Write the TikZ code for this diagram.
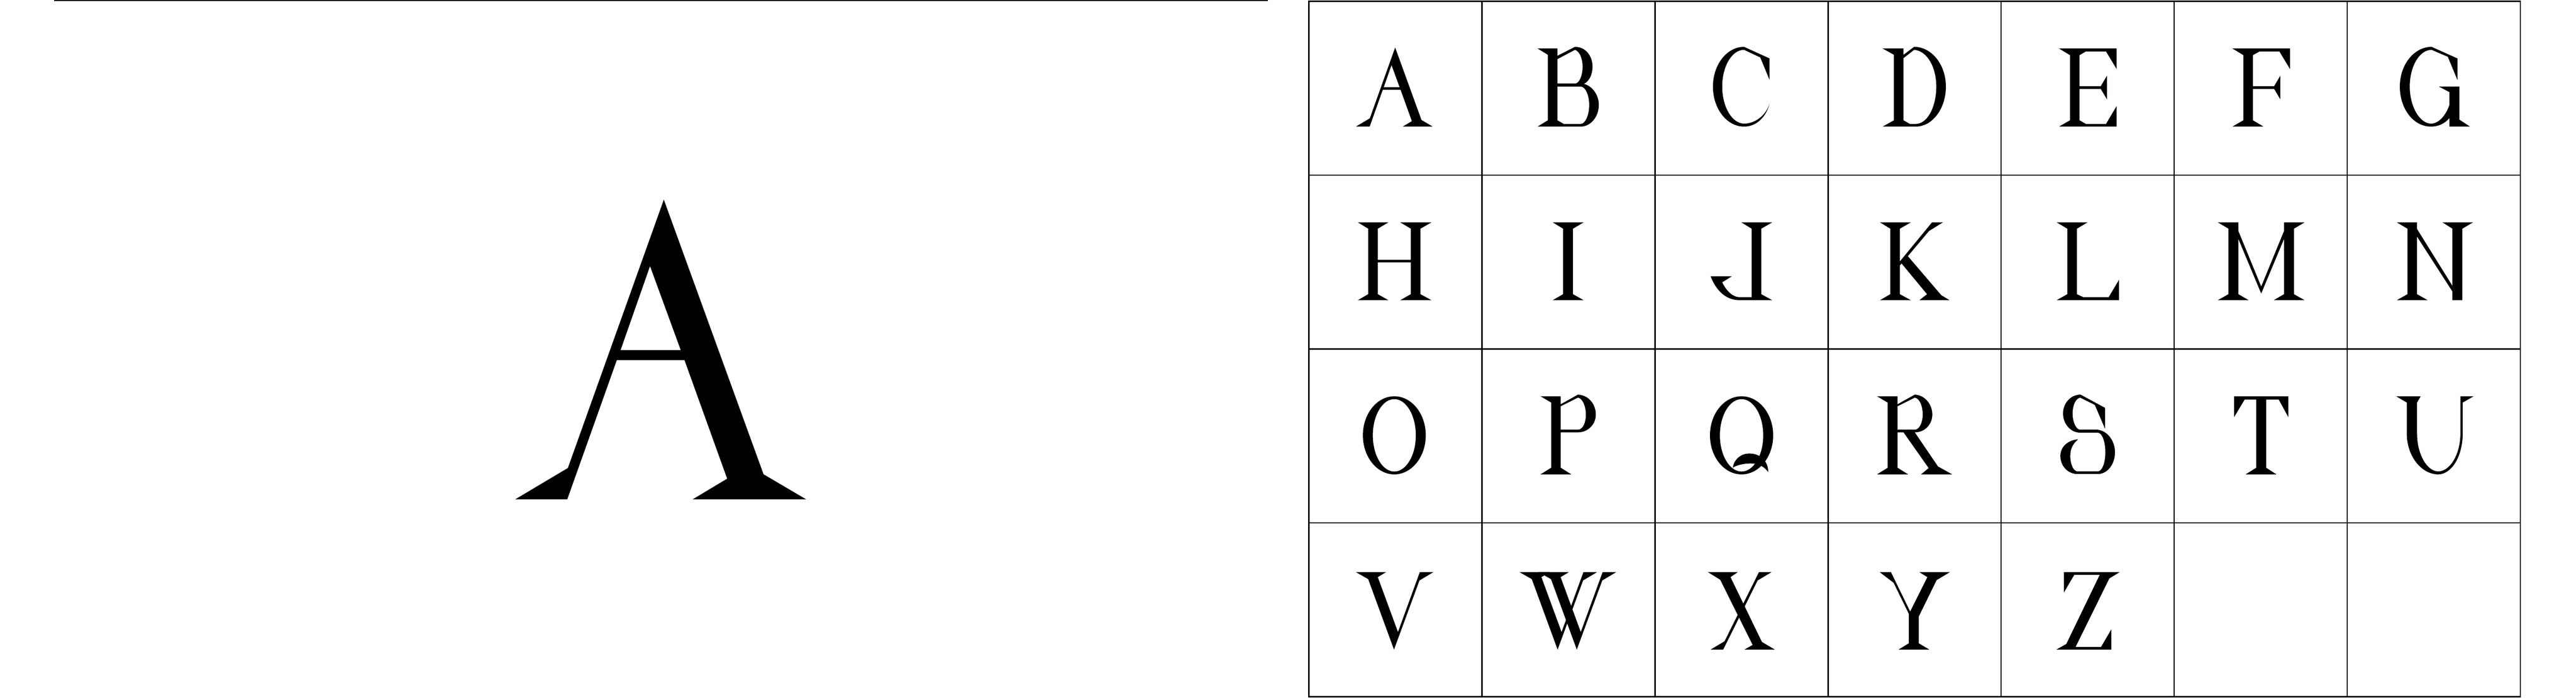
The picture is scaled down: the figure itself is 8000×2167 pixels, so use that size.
\documentclass[tikz,border=0pt]{standalone}

\begin{document}
\begin{tikzpicture}[x=0.01cm, y=-0.01cm,
  gridline/.style={line width=0.04cm},
  glyph/.style={fill=black, even odd rule},
  cell/.style 2 args={shift={({4065+537.4*#1},{3.7+540.1*#2})}, scale=1.0277}]
\useasboundingbox (0,0) rectangle (8000,2167);
\draw[gridline] (168,2) -- (3937,2); % rule over the big letter
\draw[gridline] (4065,3.7) rectangle (7827,2164); % the table
\foreach \i in {1,...,6} % edit here for the columns
\draw[gridline] ({4065+537.4*\i},3.7) -- ({4065+537.4*\i},2164);
\foreach \j in {1,2,3} % edit here for the rows
\draw[gridline] (4065,{3.7+540.1*\j}) -- (7827,{3.7+540.1*\j});
% A, once big and once in its cell
\foreach \dx/\dy/\s in {1046.9/74.8/3.895, 4065/3.7/1.0277}
\fill[glyph, shift={(\dx,\dy)}, scale=\s] (260.5,140) -- (184,354) -- (142,379) -- (183.5,379) -- (223,268) -- (277,268) -- (311,362.5) -- (283.5,379) -- (374,379) -- (340,359) -- cycle
  (249.5,193) -- (226,260) -- (274,260) -- cycle;
% B
\fill[glyph, cell={1}{0}] (168,143) -- (228,143) -- (228,165) -- (281,138) .. controls (315,138) and (334,168) .. (334,197) .. controls (334,225) and (322,243) .. (308,250) .. controls (335,257) and (353,285) .. (353,313) .. controls (353,350) and (328,379) .. (298,379) -- (168,379) -- (199,360) -- (199,162) -- cycle
  (228,175) -- (281,147) .. controls (296,152) and (304,175) .. (304,198) .. controls (304,225) and (294,249) .. (281,249) -- (228,249) -- cycle
  (228,258) -- (298,258) .. controls (313,258) and (324,285) .. (324,313) .. controls (324,345) and (312,371) .. (298,371) -- (247,371) -- (228,360) -- cycle;
% C
\fill[glyph, cell={2}{0}] (269,138) -- (346,173) -- (346,238) -- (318,170) -- (269,147) .. controls (232,147) and (203,197) .. (203,258) .. controls (203,320) and (233,370) .. (269,370) .. controls (303,370) and (335,345) .. (346,310) .. controls (335,352) and (305,379) .. (269,379) .. controls (217,379) and (175,325) .. (175,258) .. controls (175,192) and (217,138) .. (269,138) -- cycle;
% D
\fill[glyph, cell={3}{0}] (165,143) -- (228,143) -- (228,162) -- (260,138) .. controls (313,138) and (356,192) .. (356,258) .. controls (356,325) and (315,379) .. (265,379) -- (165,379) -- (199,360) -- (199,162) -- cycle
  (228,172) -- (260,147) .. controls (300,150) and (327,200) .. (327,258) .. controls (327,320) and (300,371) .. (265,371) -- (247,371) -- (228,360) -- cycle;
% E
\fill[glyph, cell={4}{0}] (175,143) -- (349,143) -- (349,205) -- (317,152) -- (256,152) -- (237,163) -- (237,257) -- (301,257) -- (320,225) -- (320,297) -- (301,265) -- (237,265) -- (237,360) -- (256,371) -- (317,371) -- (349,317) -- (349,379) -- (175,379) -- (208,360) -- (208,163) -- cycle;
% F
\fill[glyph, cell={5}{0}] (176,143) -- (350,143) -- (350,205) -- (318,152) -- (258,152) -- (238,163) -- (238,257) -- (302,257) -- (321,225) -- (321,297) -- (302,265) -- (238,265) -- (238,360) -- (270,379) -- (176,379) -- (209,360) -- (209,163) -- cycle;
% G
\fill[glyph, cell={6}{0}] (255,138) -- (333,173) -- (333,238) -- (304,168) -- (255,147) .. controls (218,147) and (189,197) .. (189,258) .. controls (189,320) and (220,370) .. (253,370) .. controls (280,370) and (300,340) .. (309,313) -- (309,275) -- (277,258) -- (339,258) -- (339,358) -- (371,379) -- (309,379) -- (309,353) .. controls (295,370) and (275,379) .. (253,379) .. controls (200,379) and (159,325) .. (159,258) .. controls (159,192) and (202,138) .. (255,138) -- cycle;
% H
\fill[glyph, cell={0}{1}] (148,143) -- (240,143) -- (208,162) -- (208,256) -- (308,256) -- (308,162) -- (276,143) -- (370,143) -- (337,162) -- (337,360) -- (370,378) -- (276,378) -- (308,360) -- (308,264) -- (208,264) -- (208,360) -- (240,378) -- (148,378) -- (179,360) -- (179,162) -- cycle;
% I
\fill[glyph, cell={1}{1}] (214,143) -- (307,143) -- (275,162) -- (275,360) -- (307,378) -- (214,378) -- (245,360) -- (245,162) -- cycle;
% J
\fill[glyph, cell={2}{1}] (261,143) -- (354,143) -- (321,162) -- (321,360) -- (354,378) -- (255,378) .. controls (215,378) and (185,350) .. (168,306) -- (232,306) -- (203,324) .. controls (215,350) and (235,369) .. (255,369) -- (292,369) -- (292,162) -- cycle;
% K
\fill[glyph, cell={3}{1}] (157,143) -- (250,143) -- (217,162) -- (217,261) -- (314,143) -- (347,143) -- (305,169) -- (241,245) -- (342,363) -- (367,378) -- (276,378) -- (299,360) -- (222,267) -- (217,273) -- (217,360) -- (250,378) -- (157,378) -- (188,360) -- (188,162) -- cycle;
% L
\fill[glyph, cell={4}{1}] (168,143) -- (261,143) -- (229,162) -- (229,360) -- (248,369) -- (325,369) -- (356,317) -- (356,378) -- (168,378) -- (200,360) -- (200,162) -- cycle;
% M
\fill[glyph, cell={5}{1}] (164,162) -- (132,143) -- (194,143) -- (194,169) -- (263,337) -- (332,169) -- (332,143) -- (394,143) -- (362,162) -- (362,360) -- (394,378) -- (301,378) -- (332,360) -- (332,193) -- (263,358) -- (194,193) -- (194,360) -- (225,378) -- (132,378) -- (164,360) -- cycle;
% N
\fill[glyph, cell={6}{1}] (182,162) -- (150,143) -- (211,143) -- (211,163) -- (318,335) -- (318,162) -- (288,143) -- (380,143) -- (348,162) -- (348,378) -- (318,378) -- (318,352) -- (211,186) -- (211,360) -- (243,378) -- (150,378) -- (182,360) -- cycle;
% O
\fill[glyph, cell={0}{2}] (258,261) ellipse [x radius=95, y radius=118] (258,261) ellipse [x radius=65, y radius=109.5];
% P
\fill[glyph, cell={1}{2}] (177,143) -- (238,143) -- (238,167) -- (290,138) .. controls (325,140) and (344,170) .. (344,198) .. controls (344,228) and (320,252) .. (290,252) -- (238,252) -- (238,359) -- (270,379) -- (177,379) -- (209,359) -- (209,162) -- cycle
  (238,173) -- (290,147) .. controls (305,150) and (314,175) .. (314,198) .. controls (314,222) and (305,244) .. (290,244) -- (238,244) -- cycle;
% Q
\fill[glyph, cell={2}{2}] (261.5,261) ellipse [x radius=95.5, y radius=118] (261.5,261) ellipse [x radius=65.5, y radius=109.5];
\fill[glyph, cell={2}{2}] (235,359) .. controls (238,335) and (258,316) .. (285,316) .. controls (320,316) and (342,340) .. (342,372) .. controls (330,355) and (312,346) .. (290,346) .. controls (265,346) and (245,352) .. (235,359) -- cycle;
% R
\fill[glyph, cell={3}{2}] (148,143) -- (210,143) -- (210,167) -- (262,138) .. controls (295,140) and (315,170) .. (315,198) .. controls (315,228) and (292,252) .. (262,252) -- (332,355) -- (375,379) -- (281,379) -- (304,360) -- (228,252) -- (210,252) -- (210,359) -- (242,379) -- (148,379) -- (180,359) -- (180,162) -- cycle
  (210,173) -- (262,147) .. controls (278,150) and (286,175) .. (286,198) .. controls (286,222) and (276,244) .. (262,244) -- (210,244) -- cycle;
% S
\fill[glyph, cell={4}{2}] (240,138) -- (314,178) -- (314,241) -- (283,169) -- (239,147) .. controls (225,150) and (216,170) .. (216,195) .. controls (216,222) and (227,244) .. (239,244) -- (292,244) .. controls (322,248) and (344,278) .. (344,312) .. controls (344,350) and (320,378) .. (292,378) -- (231,378) .. controls (203,378) and (179,355) .. (179,323) .. controls (179,295) and (203,275) .. (233,273) .. controls (218,285) and (209,300) .. (209,323) .. controls (209,350) and (219,370) .. (231,370) -- (292,370) .. controls (305,370) and (315,345) .. (315,312) .. controls (315,280) and (305,253) .. (292,253) -- (239,253) .. controls (210,253) and (187,226) .. (187,195) .. controls (187,164) and (210,138) .. (240,138) -- cycle;
% T
\fill[glyph, cell={5}{2}] (181,143) -- (345,143) -- (345,206) -- (316,153) -- (278,153) -- (278,359) -- (309,379) -- (216,379) -- (248,359) -- (248,153) -- (213,153) -- (181,206) -- cycle;
% U
\fill[glyph, cell={6}{2}] (148,143) -- (222,143) -- (211,162) -- (211,255) .. controls (211,320) and (242,370) .. (275,370) .. controls (310,370) and (342,320) .. (342,255) -- (342,143) -- (382,143) -- (349,162) -- (349,255) .. controls (349,325) and (315,379) .. (275,379) .. controls (225,379) and (180,325) .. (180,255) -- (180,162) -- cycle;
% V, and W as two V's
\foreach \c/\dx in {0/0, 1/-28.5, 1/29.5}
\fill[glyph, cell={\c}{3}, shift={(\dx,0)}] (142,149) -- (233,149) -- (208,164) -- (269,330) -- (335,149) -- (376,149) -- (334,174) -- (257,383) -- (179,170) -- cycle;
% X
\fill[glyph, cell={2}{3}] (160,149) -- (250,149) -- (228,164) -- (323,360) -- (362,383) -- (270,383) -- (295,369) -- (197,172) -- cycle;
\fill[glyph, cell={2}{3}] (314,149) -- (352,149) -- (310,174) -- (206,383) -- (168,383) -- (210,358) -- cycle;
% Y
\fill[glyph, cell={3}{3}] (156,149) -- (190,149) -- (248,268) -- (300,164) -- (276,149) -- (368,149) -- (328,173) -- (274,283) -- (274,364) -- (306,383) -- (213,383) -- (244,364) -- (244,275) -- (198,181) -- cycle;
% Z
\fill[glyph, cell={4}{3}] (190,149) -- (358,149) -- (327,168) -- (225,375) -- (302,375) -- (333,322) -- (333,383) -- (167,383) -- (197,366) -- (298,157) -- (221,157) -- (190,210) -- cycle;
\end{tikzpicture}
\end{document}
